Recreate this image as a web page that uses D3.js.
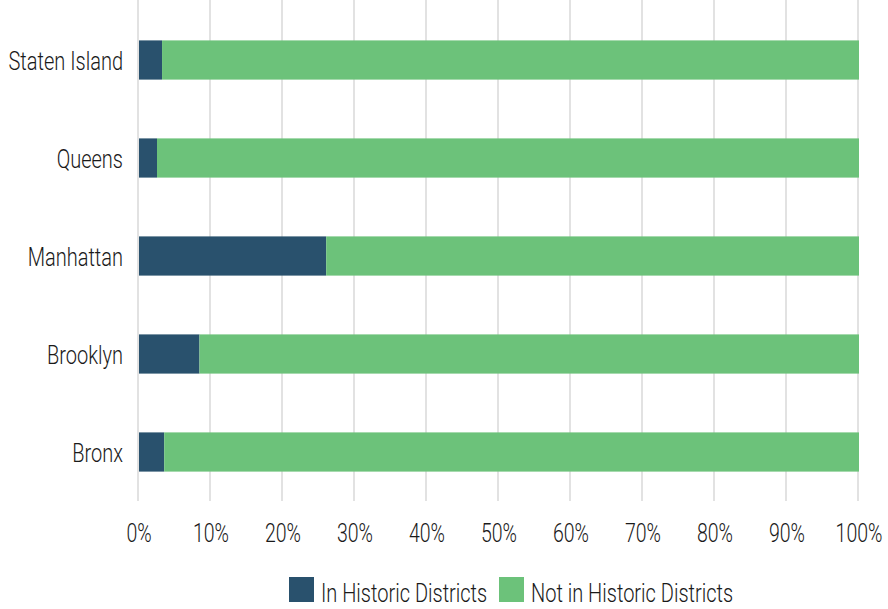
<!DOCTYPE html>
<html>
<head>
<meta charset="utf-8">
<script src="https://cdn.jsdelivr.net/npm/d3@7"></script>
<style>
  body { margin: 0; background: #fff; }
  svg text { font-family: Roboto, "DejaVu Sans Condensed", sans-serif; font-weight: 300; fill: #1a1a1a; }
</style>
</head>
<body>
<svg id="chart" width="888" height="609"></svg>
<script>
//-----------------------------------------------------------------------------
// DATA
var boroughs    = ["Staten Island", "Queens", "Manhattan", "Brooklyn", "Bronx"];
var inHistoric  = [3.2, 2.5, 26.0, 8.4, 3.5];          // percent
var notHistoric = inHistoric.map(function(v){ return 100 - v; });
var seriesNames = ["In Historic Districts", "Not in Historic Districts"];
var tickValues  = [0, 10, 20, 30, 40, 50, 60, 70, 80, 90, 100];
//-----------------------------------------------------------------------------
// CONFIG
var config = {
  'left'     : 139,
  'right'    : 859,
  'top'      : 11,
  'bottom'   : 501,
  'colors'   : ["#29516d", "#6cc27a"],
  'grid'     : "#e2e2e2",
  'fontSize' : 26
};
//-----------------------------------------------------------------------------
var svg = d3.select("#chart");

var x = d3.scaleLinear().domain([0, 100]).range([config.left, config.right]);
var y = d3.scaleBand().domain(boroughs).range([config.top, config.bottom]).paddingInner(0.6).paddingOuter(0.3);

// helper : condensed text placed at (px, py)
function squeezed(sel, px, py, s){
  sel.attr("x", 0).attr("y", 0)
     .attr("font-size", config.fontSize)
     .attr("transform", function(d, i){
        return "translate(" + px(d, i) + "," + py(d, i) + ") scale(" + s + ",1)";
     });
}

// gridlines
svg.append("g").selectAll("line")
   .data(tickValues)
   .enter().append("line")
   .attr("x1", function(d){ return x(d) - 1; })
   .attr("x2", function(d){ return x(d) - 1; })
   .attr("y1", 0)
   .attr("y2", config.bottom)
   .attr("stroke", config.grid)
   .attr("stroke-width", 2);

// stacked bars
var rows = boroughs.map(function(b, i){
  return { name: b, in: inHistoric[i], not: notHistoric[i] };
});
var stack = d3.stack().keys(["in", "not"])(rows);

svg.append("g").selectAll("g")
   .data(stack)
   .enter().append("g")
   .attr("fill", function(d, i){ return config.colors[i]; })
   .selectAll("rect")
   .data(function(d){ return d; })
   .enter().append("rect")
   .attr("x", function(d){ return x(d[0]); })
   .attr("width", function(d){ return x(d[1]) - x(d[0]); })
   .attr("y", function(d){ return y(d.data.name); })
   .attr("height", y.bandwidth());

// y labels
svg.append("g").selectAll("text")
   .data(boroughs)
   .enter().append("text")
   .attr("text-anchor", "end")
   .text(function(d){ return d; })
   .call(squeezed,
         function(){ return 123; },
         function(d){ return y(d) + y.bandwidth() / 2 + 9.5; },
         0.77);

// x tick labels
svg.append("g").selectAll("text")
   .data(tickValues)
   .enter().append("text")
   .attr("text-anchor", "middle")
   .text(function(d){ return d + "%"; })
   .call(squeezed,
         function(d){ return x(d); },
         function(){ return 542; },
         0.75);

// legend
var legendX = [289, 499];
var legend = svg.append("g").selectAll("g")
   .data(seriesNames)
   .enter().append("g")
   .attr("transform", function(d, i){ return "translate(" + legendX[i] + ",577)"; });
legend.append("rect")
   .attr("width", 25).attr("height", 25)
   .attr("fill", function(d, i){ return config.colors[i]; });
legend.append("text")
   .text(function(d){ return d; })
   .call(squeezed,
         function(){ return 32; },
         function(){ return 25; },
         0.77);
</script>
</body>
</html>
